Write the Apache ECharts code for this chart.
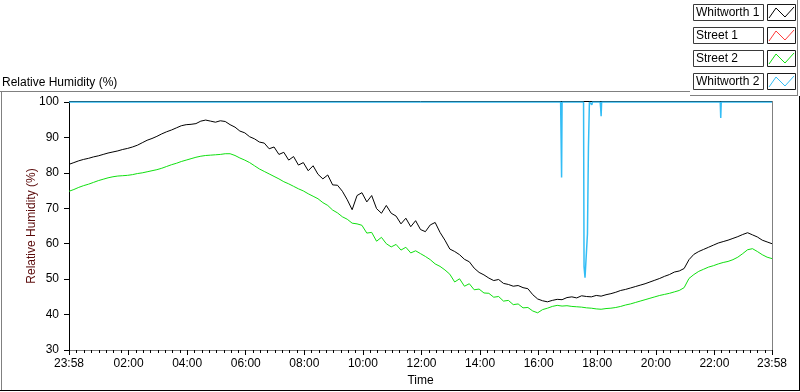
<!DOCTYPE html>
<html>
<head>
<meta charset="utf-8">
<script src="https://cdn.jsdelivr.net/npm/echarts@6/dist/echarts.min.js"></script>
<style>
  html, body { margin: 0; padding: 0; background: #fff; }
  #chart { width: 800px; height: 392px; }
</style>
</head>
<body>
<div id="chart"></div>
<script>
// samples every 10 min, first sample at 23:58
var sampleStep = 10;

var whitworth1 = [
  82.4, 82.9, 83.4, 83.8, 84.1, 84.5, 84.8, 85.2, 85.6, 85.9,
  86.2, 86.6, 86.9, 87.3, 87.8, 88.5, 89.2, 89.7, 90.3, 91.0,
  91.6, 92.1, 92.7, 93.3, 93.6, 93.7, 93.9, 94.6, 94.9, 94.6,
  94.3, 94.7, 94.5, 93.6, 92.9, 91.8, 91.3, 90.2, 89.6, 88.7,
  88.4, 86.8, 87.3, 85.2, 85.8, 83.6, 84.6, 82.2, 82.9, 80.6,
  82.0, 79.6, 78.3, 79.4, 76.6, 76.5, 74.8, 72.4, 69.6, 73.6,
  74.4, 71.8, 73.6, 69.9, 68.6, 70.8, 68.6, 67.8, 65.6, 67.2,
  64.8, 66.5, 64.0, 63.4, 65.3, 66.0, 63.2, 61.0, 58.5, 57.8,
  56.9, 55.6, 54.9, 53.1, 51.9, 51.2, 50.3, 49.6, 49.9, 48.8,
  48.5, 48.0, 48.2, 47.6, 47.3, 45.6, 44.4, 43.9, 43.6, 44.0,
  44.3, 44.2, 44.8, 45.0, 44.7, 45.3, 45.1, 45.0, 45.4, 45.2,
  45.6, 45.9, 46.3, 46.8, 47.1, 47.5, 47.9, 48.3, 48.7, 49.2,
  49.7, 50.2, 50.8, 51.3, 52.0, 52.3, 53.0, 55.5, 57.0, 57.8,
  58.4, 59.0, 59.6, 60.2, 60.6, 61.0, 61.5, 62.0, 62.6, 63.1,
  62.5, 61.9, 61.0, 60.5, 60.0
];

var street1 = [];

var street2 = [
  74.8, 75.3, 75.9, 76.4, 76.8, 77.3, 77.8, 78.2, 78.6, 78.9,
  79.1, 79.2, 79.3, 79.5, 79.8, 80.0, 80.3, 80.6, 80.9, 81.3,
  81.8, 82.3, 82.7, 83.2, 83.6, 84.0, 84.4, 84.7, 84.9, 85.0,
  85.1, 85.2, 85.4, 85.4, 84.9, 84.2, 83.6, 82.9, 82.0, 81.1,
  80.4, 79.7, 79.0, 78.3, 77.5, 76.9, 76.2, 75.5, 74.9, 74.1,
  73.4, 72.7, 71.6, 70.8, 69.5, 68.7, 67.6, 66.9, 65.8, 65.6,
  65.2, 63.0, 63.2, 60.7, 61.8, 60.0, 59.1, 59.8, 58.2, 59.0,
  57.4, 58.0, 57.2, 56.4, 55.5, 54.3, 53.6, 52.6, 51.4, 49.2,
  50.1, 48.0, 48.7, 47.0, 47.2, 46.1, 46.0, 44.9, 45.1, 43.8,
  44.0, 42.8, 43.0, 41.9, 42.0, 41.0, 40.5, 41.4, 41.8, 42.3,
  42.6, 42.4, 42.5, 42.3, 42.2, 42.1, 41.9, 41.8, 41.6, 41.5,
  41.7, 41.8, 42.0, 42.3, 42.7, 43.0, 43.4, 43.8, 44.2, 44.6,
  45.0, 45.4, 45.7, 46.0, 46.4, 46.8, 47.6, 50.2, 51.3, 52.2,
  52.8, 53.4, 53.8, 54.3, 54.7, 55.0, 55.5, 56.2, 57.2, 58.3,
  58.6, 57.8, 56.9, 56.2, 55.8
];

// Whitworth 2 sits at 100 apart from a few drop-outs
var whitworth2Times = [0, 1007, 1008, 1009, 1010, 1054, 1055, 1057, 1060, 1062, 1064, 1066,
  1070, 1071, 1072, 1088, 1089, 1090, 1091, 1334, 1335, 1336, 1440];
var whitworth2Values = [100, 100, 89.6, 78.7, 100, 100, 53.5, 50.4, 50.4, 62.8, 87.1, 100,
  100, 99.2, 100, 100, 98.3, 96, 100, 100, 95.5, 100, 100];

var tickMinutes = [0, 122, 242, 362, 482, 602, 722, 842, 962, 1082, 1202, 1322, 1440];
var tickLabels = ['23:58', '02:00', '04:00', '06:00', '08:00', '10:00', '12:00',
  '14:00', '16:00', '18:00', '20:00', '22:00', '23:58'];

var legendNames = ['Whitworth 1', 'Street 1', 'Street 2', 'Whitworth 2'];
var colors = ['#000000', '#ff3b3b', '#10e010', '#33bdf5'];

var FONT = 'Liberation Sans';

function toPairs(vals) {
  return vals.map(function (v, i) { return [i * sampleStep, v]; });
}

var minorTicks = [];
for (var k = 0; k <= 8; k++) minorTicks.push(k * 122 / 8);
for (var t = 137; t < 1322; t += 15) minorTicks.push(t);
for (k = 0; k <= 8; k++) minorTicks.push(1322 + k * 118 / 8);

var labelMap = {};
tickMinutes.forEach(function (m, i) { labelMap[m] = tickLabels[i]; });

// legend drawn like the LabVIEW plot legend: name box + swatch box
var legendEls = [];
legendNames.forEach(function (name, i) {
  var y = 4 + i * 23;
  legendEls.push({
    type: 'rect', shape: { x: 693.5, y: y + 0.5, width: 70, height: 16 },
    style: { fill: '#fff', stroke: '#3a3a3a', lineWidth: 1 }
  });
  legendEls.push({
    type: 'text', x: 696, y: y + 9,
    style: { text: name, font: '12px ' + FONT, fill: '#000', verticalAlign: 'middle' }
  });
  legendEls.push({
    type: 'rect', shape: { x: 767.5, y: y + 0.5, width: 28, height: 16 },
    style: { fill: '#fff', stroke: '#1a1a1a', lineWidth: 1 }
  });
  legendEls.push({
    type: 'polyline',
    shape: { points: [[769, y + 14], [776, y + 4], [785, y + 13], [794, y + 3]] },
    style: { stroke: colors[i], lineWidth: 1, fill: null }
  });
});

var frameEls = [
  // outer panel
  { type: 'line', shape: { x1: 0, y1: 91.5, x2: 690, y2: 91.5 }, style: { stroke: '#808080' } },
  { type: 'line', shape: { x1: 690, y1: 95.5, x2: 797, y2: 95.5 }, style: { stroke: '#808080' } },
  { type: 'line', shape: { x1: 797.5, y1: 0, x2: 797.5, y2: 96 }, style: { stroke: '#808080' } },
  { type: 'line', shape: { x1: 1.5, y1: 92, x2: 1.5, y2: 391 }, style: { stroke: '#808080' } },
  { type: 'line', shape: { x1: 0, y1: 390.5, x2: 800, y2: 390.5 }, style: { stroke: '#000' } },
  { type: 'line', shape: { x1: 799.5, y1: 96, x2: 799.5, y2: 391 }, style: { stroke: '#000' } },
  // plot box top / right
  { type: 'line', shape: { x1: 69, y1: 101.5, x2: 772, y2: 101.5 }, style: { stroke: '#000' } },
  { type: 'line', shape: { x1: 772.5, y1: 101, x2: 772.5, y2: 353 }, style: { stroke: '#808080' } },
  {
    type: 'text', x: 2, y: 83,
    style: { text: 'Relative Humidity (%)', font: '12px ' + FONT, fill: '#000', verticalAlign: 'middle' }
  }
];

var chart = echarts.init(document.getElementById('chart'), null, { renderer: 'canvas' });

chart.setOption({
  animation: false,
  backgroundColor: '#fff',
  textStyle: { fontFamily: FONT },
  grid: { left: 69, right: 28, top: 102, bottom: 39 },
  graphic: { elements: frameEls.concat(legendEls) },
  xAxis: [
    {
      type: 'value', min: 0, max: 1440,
      name: 'Time', nameLocation: 'middle', nameGap: 25, nameMoveOverlap: false,
      nameTextStyle: { color: '#000', fontSize: 12, fontFamily: FONT },
      axisLine: { lineStyle: { color: '#808080', width: 1 } },
      axisTick: { customValues: tickMinutes, length: 5, lineStyle: { color: '#000' } },
      axisLabel: {
        customValues: tickMinutes, color: '#000', fontSize: 12, fontFamily: FONT, margin: 8,
        formatter: function (v) { return labelMap[v] || ''; }
      },
      splitLine: { show: false }
    },
    {
      type: 'value', min: 0, max: 1440, position: 'bottom', offset: 0,
      axisLine: { show: false },
      axisTick: { customValues: minorTicks, length: 3, lineStyle: { color: '#000' } },
      axisLabel: { show: false },
      splitLine: { show: false }
    }
  ],
  yAxis: {
    type: 'value', min: 30, max: 100, interval: 10,
    name: 'Relative Humidity (%)', nameLocation: 'middle', nameGap: 31, nameMoveOverlap: false,
    nameTextStyle: { color: '#5a0a0a', fontSize: 12, fontFamily: FONT },
    axisLine: { show: true, lineStyle: { color: '#000', width: 1 } },
    axisTick: { show: true, length: 5, lineStyle: { color: '#000' } },
    axisLabel: { color: '#000', fontSize: 12, fontFamily: FONT, margin: 10 },
    splitLine: { show: false }
  },
  series: [
    {
      name: legendNames[0], type: 'line', data: toPairs(whitworth1), showSymbol: false,
      lineStyle: { color: colors[0], width: 1 }, itemStyle: { color: colors[0] }
    },
    {
      name: legendNames[1], type: 'line', data: street1, showSymbol: false,
      lineStyle: { color: colors[1], width: 1 }
    },
    {
      name: legendNames[2], type: 'line', data: toPairs(street2), showSymbol: false,
      lineStyle: { color: colors[2], width: 1 }, itemStyle: { color: colors[2] }
    },
    {
      name: legendNames[3], type: 'line', showSymbol: false,
      data: whitworth2Times.map(function (tm, i) { return [tm, whitworth2Values[i]]; }),
      lineStyle: { color: colors[3], width: 1.5 }, itemStyle: { color: colors[3] }
    }
  ]
});

window.addEventListener('resize', chart.resize);
</script>
</body>
</html>
